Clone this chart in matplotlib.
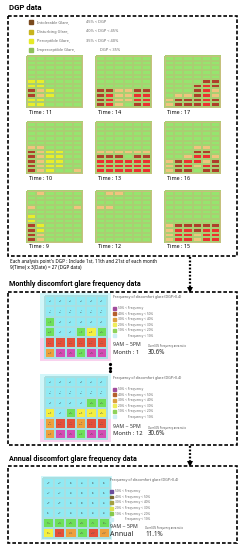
import numpy as np
import matplotlib
matplotlib.use('Agg')
import matplotlib.pyplot as plt
from matplotlib.colors import ListedColormap
from matplotlib.patches import Rectangle

plt.rcParams['font.family'] = ['Noto Sans', 'DejaVu Sans']

# DGP category grids (0 imperceptible, 1 perceptible, 2 disturbing, 3 intolerable, 4 strong intolerable)
zero = "000000"
t11 = [zero] * 5 + ["110000", "110000", "321000", "321000", "110000", "110000"]
t14 = [zero] * 7 + ["332233", "342244", "342244", "342034"]
t17 = [zero] * 5 + ["000033", "000343", "000342", "022342", "233343", "233343"]
t10 = [zero] * 5 + ["220000", "321100", "321100", "321100", "321100", "321002"]
t13 = [zero] * 6 + ["222222", "333033", "444444", "444444", "444444"]
t16 = [zero] * 5 + ["000220", "000330", "002442", "234423", "234243", "233033"]
t9 = ["020000", zero, zero, "200002", zero, "100000", "100000", "310000", "310000", "320000", "320000"]
t12 = ["022000", zero, zero, "220000"] + [zero] * 7
t15 = [zero] * 7 + ["233333", "244344", "244244", "244244"]

dgp_grids = [[t11, t14, t17], [t10, t13, t16], [t9, t12, t15]]
dgp_times = [[11, 14, 17], [10, 13, 16], [9, 12, 15]]
dgp_colors = ['#95e56e', '#e8ee2a', '#f0c47e', '#ad3f2a', '#ec3030']

dgp_legend_names = ['Intolerable Glare,', 'Disturbing Glare,', 'Perceptible Glare,', 'Imperceptible Glare,']
dgp_legend_ranges = ['45% < DGP', '40% < DGP < 45%', '35% < DGP < 40%', 'DGP < 35%']
dgp_legend_colors = ['#7a4a1e', '#c8b41e', '#e6ea28', '#8fc05a']

# discomfort glare counts (DGP > 0.4) per analysis point
jan_counts = [[1, 2, 1, 1, 2, 2],
              [1, 1, 0, 1, 1, 2],
              [3, 2, 1, 2, 2, 2],
              [4, 2, 2, 3, 6, 4],
              [11, 13, 12, 11, 12, 13],
              [9, 15, 16, 5, 15, 14]]
dec_counts = [[1, 2, 1, 2, 1, 2],
              [1, 1, 2, 1, 2, 2],
              [2, 2, 2, 2, 4, 4],
              [6, 2, 4, 6, 7, 6],
              [10, 12, 13, 9, 11, 12],
              [9, 15, 16, 4, 15, 14]]
annual_counts = [[10, 14, 16, 12, 18, 15],
                 [13, 17, 20, 19, 22, 21],
                 [18, 22, 25, 24, 27, 26],
                 [21, 26, 28, 27, 30, 29],
                 [40, 48, 52, 50, 55, 60],
                 [80, 146, 118, 58, 136, 112]]
month_total = 27
annual_total = 324

freq_bins = [10, 20, 30, 40, 50]
freq_colors = ['#90eaf4', '#6ee05a', '#f4f040', '#eea03c', '#e5503a', '#d44cb4']
freq_labels = ['50% < Frequency', '40% < Frequency < 50%', '30% < Frequency < 40%',
               '20% < Frequency < 30%', '10% < Frequency < 20%', 'Frequency < 10%']
month_legend_colors = ['#a04c9c', '#b4602c', '#dca040', '#eeee5a', '#8ed25a', '#cdeff5']
annual_legend_colors = ['#6a4c9c', '#7a6a30', '#a4a040', '#dce24a', '#86c84a', '#cdeff5']

fig = plt.figure(figsize=(2.45, 5.5), dpi=100)
ax = fig.add_axes([0, 0, 1, 1])
ax.set_xlim(0, 245)
ax.set_ylim(550, 0)
ax.axis('off')

title_font = dict(family=['Roboto', 'DejaVu Sans'], fontweight='bold', va='center')


def dashed_box(x, y, w, h):
    ax.add_patch(Rectangle((x, y), w, h, fill=False, ec='black', lw=1.2,
                           ls=(0, (2.2, 1.2))))


def dotted_arrow(x, y1, y2):
    ax.plot([x, x], [y1, y2 - 3], color='black', lw=1.6, ls=(0, (0.8, 0.8)))
    ax.plot(x, y2 - 2, marker='v', color='black', ms=4.5, mew=0)


def grid(data, x0, y0, w, h, colors, edge, lw):
    data = np.asarray(data)
    xe = np.linspace(x0, x0 + w, data.shape[1] + 1)
    ye = np.linspace(y0, y0 + h, data.shape[0] + 1)
    ax.pcolormesh(xe, ye, data, cmap=ListedColormap(colors), vmin=-0.5,
                  vmax=len(colors) - 0.5, edgecolors=edge, linewidth=lw)
    return xe, ye


# ---- DGP data ----
ax.text(9, 8, 'DGP data', fontsize=5.6, **title_font)
dashed_box(8, 16, 229, 240)
for i in range(4):
    yy = 22.3 + i * 9.2
    ax.add_patch(Rectangle((29, yy - 2), 4, 4, color=dgp_legend_colors[i]))
    ax.text(37, yy, dgp_legend_names[i], fontsize=2.8, color='#666666', va='center')
    ax.text(86 if i < 3 else 100, yy, dgp_legend_ranges[i], fontsize=2.8,
            color='#666666', va='center')

col_x = [27, 96, 165]
row_y = [56, 122, 191]
for r in range(3):
    for c in range(3):
        cat = np.array([[int(ch) for ch in row] for row in dgp_grids[r][c]])
        grid(cat, col_x[c], row_y[r], 55, 51, dgp_colors, '#a9cf72', 0.1)
        ax.add_patch(Rectangle((col_x[c], row_y[r]), 55, 51, fill=False,
                               ec='#cbbf80', lw=0.6))
        ax.text(col_x[c] + 2, row_y[r] + 56, 'Time : %d' % dgp_times[r][c],
                fontsize=3.9, va='center')

ax.text(10, 261, "Each analysis point's DGP : Include 1st, 11th and 21st of each month",
        fontsize=3.3, va='center')
ax.text(10, 268, '9(Time) x 3(Date) = 27 (DGP data)', fontsize=3.3, va='center')
dotted_arrow(190, 257, 292)


def freq_panel(counts, total, gx, gy, gw, gh, lx, ly, step, legend_colors, period,
               period_size, ratio_x):
    counts = np.asarray(counts)
    pct = counts / total * 100
    cat = np.digitize(pct, freq_bins)
    xe, ye = grid(cat, gx, gy, gw, gh, freq_colors, '#a8dfe2', 0.2)
    for i in range(cat.shape[0]):
        for j in range(cat.shape[1]):
            ax.text((xe[j] + xe[j + 1]) / 2, (ye[i] + ye[i + 1]) / 2,
                    '%d\n%d%%' % (counts[i, j], round(pct[i, j])),
                    fontsize=1.5, color='#555555', ha='center', va='center',
                    linespacing=1.1)
    ax.text(lx, ly, 'Frequency of discomfort glare (DGP>0.4)', fontsize=2.6,
            color='#555555', va='center')
    for k in range(6):
        yy = ly + 11.3 + k * step
        ax.add_patch(Rectangle((lx, yy - 1.4), 2.8, 2.8, color=legend_colors[k]))
        ax.text(lx + (15 if k == 5 else 5), yy, freq_labels[k], fontsize=2.3,
                color='#666666', va='center')
    ax.text(lx, gy + 49, '9AM ~ 5PM', fontsize=3.8, color='#333333', va='center')
    ax.text(lx, gy + 56.5, period, fontsize=period_size, color='#222222', va='center')
    ax.text(ratio_x, gy + 50.5, 'Over30% Frequency area ratio', fontsize=1.9,
            color='#444444', va='center')
    ax.text(ratio_x, gy + 56.5, '%.1f%%' % ((pct >= 30).mean() * 100), fontsize=4.5,
            color='#222222', va='center')


# ---- Monthly ----
ax.text(9, 284, 'Monthly discomfort glare frequency data', fontsize=5.1, **title_font)
dashed_box(8, 292, 229, 153)
ax.add_patch(Rectangle((40, 293), 71, 45, color='#d2f6f9', lw=0))
ax.add_patch(Rectangle((40, 338), 71, 23, color='#f9d2ee', lw=0))
freq_panel(jan_counts, month_total, 45, 296, 62, 62, 113, 297, 5.45,
           month_legend_colors, 'Month : 1', 4.2, 148)
ax.plot([110, 110, 110], [364, 367.5, 371], 'o', color='black', ms=1.3)
ax.add_patch(Rectangle((40, 374), 71, 45, color='#d2f6f9', lw=0))
ax.add_patch(Rectangle((40, 419), 71, 23, color='#f9d2ee', lw=0))
freq_panel(dec_counts, month_total, 45, 377, 62, 62, 113, 378, 5.45,
           month_legend_colors, 'Month : 12', 4.2, 148)
dotted_arrow(190, 446, 466)

# ---- Annual ----
ax.text(9, 459, 'Annual discomfort glare frequency data', fontsize=5.1, **title_font)
dashed_box(8, 466, 229, 77)
ax.add_patch(Rectangle((41, 476), 71, 64, color='#d2f6f9', lw=0))
freq_panel(annual_counts, annual_total, 43, 478, 67, 60, 110, 480, 5.6,
           annual_legend_colors, 'Annual', 5.0, 145)

fig.savefig('out.png', dpi=100)
